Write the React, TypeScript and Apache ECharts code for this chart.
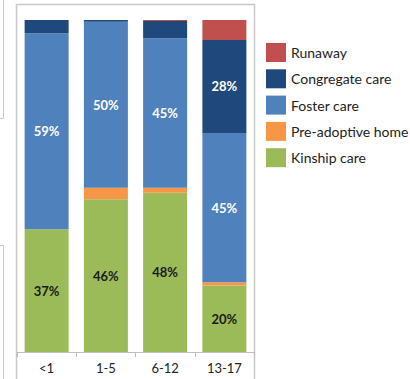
import React, { useEffect, useRef } from "react";
import * as echarts from "echarts";

// Age groups along the x axis
const categories = ["<1", "1-5", "6-12", "13-17"];

// Share of children (%) in each placement type, per age group
const kinshipCare = [37, 46, 48, 20];
const preAdoptiveHome = [0, 3.5, 1.5, 1];
const fosterCare = [59, 50, 45, 45];
const congregateCare = [4, 0.5, 5.2, 28];
const runaway = [0, 0, 0.3, 6];

const FONT = "Lato, 'Open Sans', sans-serif";
const FRAME = "#c8c8c8";

function makeSeries(name: string, data: number[], color: string, labelColor: string) {
  return {
    name,
    type: "bar",
    stack: "total",
    data,
    barWidth: 44,
    itemStyle: { color },
    label: {
      show: true,
      position: "inside",
      color: labelColor,
      fontFamily: FONT,
      fontWeight: "bold",
      fontSize: 13,
      formatter: (p: any) => (p.value >= 10 ? `${p.value}%` : ""),
    },
  };
}

export default function App() {
  const ref = useRef<HTMLDivElement>(null);

  useEffect(() => {
    if (!ref.current) return;
    const chart = echarts.init(ref.current, undefined, { renderer: "svg" });
    chart.setOption({
      animation: false,
      backgroundColor: "#ffffff",
      grid: { left: 17, right: 156, top: 20, bottom: 27, containLabel: false },
      xAxis: {
        type: "category",
        data: categories,
        axisLine: { show: true, lineStyle: { color: "#bdbdbd", width: 1 } },
        axisTick: { show: true, length: 5, lineStyle: { color: "#bdbdbd" } },
        axisLabel: { color: "#222222", fontFamily: FONT, fontSize: 13, margin: 9 },
      },
      yAxis: { type: "value", min: 0, max: 100, show: false },
      legend: {
        orient: "vertical",
        left: 261,
        top: 38,
        icon: "rect",
        itemWidth: 20,
        itemHeight: 19,
        itemGap: 7.3,
        textStyle: { color: "#222222", fontFamily: FONT, fontSize: 14 },
        data: ["Runaway", "Congregate care", "Foster care", "Pre-adoptive home", "Kinship care"],
      },
      graphic: [
        // outer frame of the chart
        {
          type: "rect",
          shape: { x: 16.5, y: 4.5, width: 238, height: 400 },
          style: { fill: "none", stroke: FRAME, lineWidth: 1.5 },
          silent: true,
        },
        // edges of the neighbouring panel on the left
        { type: "line", shape: { x1: 3.5, y1: 0, x2: 3.5, y2: 118 }, style: { stroke: FRAME, lineWidth: 1 } },
        { type: "line", shape: { x1: 0, y1: 118.5, x2: 3.5, y2: 118.5 }, style: { stroke: FRAME, lineWidth: 1 } },
        { type: "line", shape: { x1: 3.5, y1: 245, x2: 3.5, y2: 379 }, style: { stroke: FRAME, lineWidth: 1 } },
        { type: "line", shape: { x1: 0, y1: 245.5, x2: 3.5, y2: 245.5 }, style: { stroke: FRAME, lineWidth: 1 } },
      ],
      series: [
        makeSeries("Kinship care", kinshipCare, "#9bbb59", "#1a1a1a"),
        makeSeries("Pre-adoptive home", preAdoptiveHome, "#f79646", "#ffffff"),
        makeSeries("Foster care", fosterCare, "#4f81bd", "#ffffff"),
        makeSeries("Congregate care", congregateCare, "#1f497d", "#ffffff"),
        makeSeries("Runaway", runaway, "#c0504d", "#ffffff"),
      ],
    });
    return () => chart.dispose();
  }, []);

  return (
    <div
      ref={ref}
      style={{ position: "fixed", left: 0, top: 0, width: 410, height: 379, background: "#fff" }}
    />
  );
}
